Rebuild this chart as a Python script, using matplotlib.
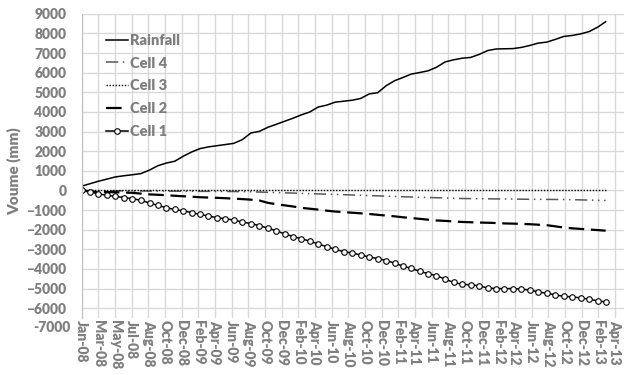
import numpy as np
import pandas as pd
import matplotlib
matplotlib.use("Agg")
import matplotlib.pyplot as plt
import matplotlib.transforms as mtransforms

plt.rcParams['font.family'] = ['Lato', 'DejaVu Sans']
plt.rcParams['font.weight'] = 800

# monthly series, Jan-08 .. Mar-13
dates = pd.date_range('2008-01-01', periods=63, freq='MS')

rainfall = [220, 350, 470, 580, 690, 750, 800, 860, 1040, 1260,
            1400, 1490, 1750, 1970, 2130, 2220, 2280, 2340, 2400, 2590,
            2930, 3010, 3220, 3370, 3530, 3690, 3850, 4000, 4250, 4350,
            4500, 4550, 4600, 4690, 4920, 4980, 5340, 5600, 5750, 5930,
            6010, 6100, 6280, 6550, 6660, 6740, 6780, 6930, 7130, 7210,
            7220, 7230, 7290, 7390, 7510, 7560, 7700, 7850, 7900, 7980,
            8100, 8330, 8600]

cell4 = [0, -5, -10, -15, -20, -20, -25, -25, -30, -30,
         -35, -35, -40, -40, -45, -45, -50, -50, -55, -60,
         -70, -80, -95, -110, -120, -135, -150, -160, -175, -190,
         -200, -215, -230, -245, -260, -275, -290, -305, -320, -335,
         -350, -360, -370, -385, -400, -410, -415, -420, -425, -430,
         -435, -440, -445, -450, -450, -455, -460, -460, -470, -480,
         -490, -500, -510]

cell3 = [0, 0, 0, 0, 0, 0, 0, 0, 0, 0,
         0, 0, 0, 0, 0, 0, 0, 0, 0, 0,
         0, 0, 0, 0, 0, 0, 0, 0, 0, 0,
         0, 0, 0, 0, 0, 0, 0, 0, 0, 0,
         0, 0, 0, 0, 0, 0, 0, 0, 0, 0,
         0, 0, 0, 0, 0, 0, 0, 0, 0, 0,
         0, 0, 0]

cell2 = [0, -50, -80, -85, -90, -105, -120, -160, -200, -220,
         -245, -270, -295, -320, -345, -360, -375, -395, -415, -440,
         -470, -510, -630, -700, -760, -820, -885, -930, -975, -1030,
         -1075, -1100, -1135, -1165, -1200, -1240, -1280, -1320, -1365, -1405,
         -1445, -1490, -1530, -1550, -1580, -1605, -1620, -1635, -1645, -1660,
         -1680, -1690, -1705, -1720, -1745, -1770, -1830, -1890, -1930, -1960,
         -1990, -2020, -2050]

cell1 = [0, -80, -170, -250, -300, -360, -420, -500, -640, -760,
         -880, -970, -1040, -1130, -1220, -1300, -1390, -1440, -1510, -1610,
         -1690, -1790, -1920, -2050, -2220, -2350, -2460, -2580, -2730, -2860,
         -3000, -3120, -3190, -3290, -3390, -3470, -3570, -3710, -3850, -3970,
         -4120, -4240, -4340, -4520, -4690, -4780, -4810, -4860, -4970, -5000,
         -5000, -5000, -5030, -5070, -5170, -5240, -5320, -5400, -5420, -5480,
         -5540, -5630, -5680]

tick_labels = ['Jan-08', 'Mar-08', 'May-08', 'Jul-08', 'Aug-08', 'Oct-08', 'Dec-08',
               'Feb-09', 'Apr-09', 'Jun-09', 'Aug-09', 'Oct-09', 'Dec-09',
               'Feb-10', 'Apr-10', 'Jun-10', 'Aug-10', 'Oct-10', 'Dec-10',
               'Feb-11', 'Apr-11', 'Jun-11', 'Aug-11', 'Oct-11', 'Dec-11',
               'Feb-12', 'Apr-12', 'Jun-12', 'Aug-12', 'Oct-12', 'Dec-12',
               'Feb-13', 'Apr-13']

start = pd.Timestamp('2008-01-01')
tick_pos = [start + pd.Timedelta(days=60 * k) for k in range(len(tick_labels))]

grey = '#7f7f7f'

fig = plt.figure(figsize=(6.24, 3.75), dpi=100)
ax = fig.add_axes([0.131, 0.152, 0.869, 0.811])

ax.plot(dates, rainfall, color='black', lw=1.1, label='Rainfall')
ax.plot(dates, cell4, color='#595959', lw=1.1, dashes=(8, 3, 1, 3, 1, 3), label='Cell 4')
ax.plot(dates, cell3, color='black', lw=1.0, dashes=(1, 1.2), label='Cell 3')
ax.plot(dates, cell2, color='black', lw=1.6, dashes=(7, 3), label='Cell 2')
ax.plot(dates, cell1, color='black', lw=1.1, marker='o', ms=4, mfc='white',
        mec='black', mew=0.8, label='Cell 1')

ax.set_xlim(start, start + pd.Timedelta(days=1952))
ax.set_ylim(-6500, 9000)
ax.set_xticks(tick_pos)
ax.set_xticklabels(tick_labels, rotation=270, fontsize=10, color=grey,
                   fontweight=800, va='top', ha='center')
ax.set_yticks(range(-6000, 9001, 1000))
ax.tick_params(axis='y', length=0, pad=11, labelsize=10, labelcolor=grey)
ax.tick_params(axis='x', length=0, pad=1.5)
for lbl in ax.get_yticklabels():
    lbl.set_fontweight(800)

# bottom label sits below the plotted range
ax.text(-11 / 542.3, -7000, '-7000',
        transform=mtransforms.blended_transform_factory(ax.transAxes, ax.transData),
        ha='right', va='center', fontsize=10, color=grey, fontweight=800, clip_on=False)

ax.grid(True, color='#d9d9d9', lw=1)
ax.set_axisbelow(True)
for s in ['top', 'right', 'bottom']:
    ax.spines[s].set_visible(False)
ax.spines['left'].set_color('#bfbfbf')

ax.set_ylabel('Voume (mm)', fontsize=11, color=grey, fontweight=800)
ax.yaxis.set_label_coords(-0.112, 0.484)

ax.legend(loc='upper left', bbox_to_anchor=(0.045, 0.935), frameon=False,
          handlelength=1.5, handletextpad=0.15, labelspacing=0.68,
          borderpad=0, borderaxespad=0,
          prop={'size': 10.5, 'weight': 800}, labelcolor=grey)

fig.savefig('out.png', dpi=100)
